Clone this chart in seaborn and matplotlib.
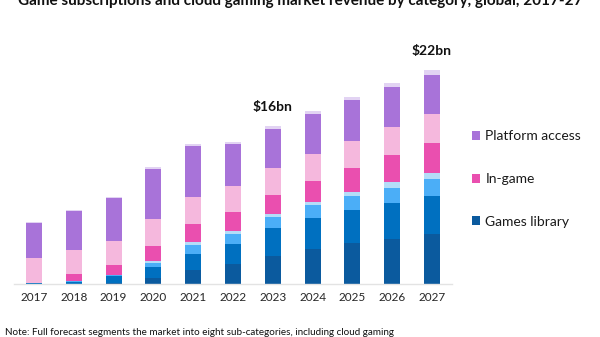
import numpy as np
import pandas as pd
import matplotlib
matplotlib.use("Agg")
import matplotlib.pyplot as plt
import seaborn as sns
from matplotlib.patches import Patch

years = ["2017", "2018", "2019", "2020", "2021", "2022", "2023", "2024", "2025", "2026", "2027"]
# segments bottom to top, US$ bn
games_library = [0.03, 0.05, 0.08, 0.58, 1.47, 2.02, 2.90, 3.59, 4.21, 4.65, 5.16]
library_b     = [0.10, 0.20, 0.72, 1.13, 1.61, 2.11, 2.81, 3.15, 3.38, 3.69, 3.87]
library_c     = [0.00, 0.02, 0.13, 0.47, 0.89, 1.03, 1.16, 1.33, 1.44, 1.54, 1.71]
library_d     = [0.00, 0.00, 0.03, 0.17, 0.31, 0.31, 0.28, 0.34, 0.44, 0.54, 0.62]
in_game       = [0.00, 0.75, 1.03, 1.57, 1.91, 1.89, 1.95, 2.15, 2.43, 2.77, 3.11]
in_game_b     = [2.50, 2.46, 2.39, 2.74, 2.77, 2.73, 2.83, 2.80, 2.80, 2.87, 2.94]
platform      = [3.65, 4.00, 4.45, 5.13, 5.17, 4.25, 3.97, 4.07, 4.14, 4.10, 4.06]
platform_b    = [0.10, 0.10, 0.10, 0.17, 0.21, 0.27, 0.31, 0.34, 0.37, 0.41, 0.48]

segments = [games_library, library_b, library_c, library_d, in_game, in_game_b, platform, platform_b]
colors = ["#0B5A9E", "#0070C0", "#4BAEF7", "#B4DDF8", "#EA4FAF", "#F5B8DD", "#A873D9", "#E2D3F3"]

annotations = {"2023": "$16bn", "2027": "$22bn"}
legend_labels = ["Platform access", "In-game", "Games library"]
legend_colors = ["#A873D9", "#EA4FAF", "#0B5A9E"]

title = "Game subscriptions and cloud gaming market revenue by category, global, 2017-27"
note = "Note: Full forecast segments the market into eight sub-categories, including cloud gaming"

sns.set_theme(style="white")
plt.rcParams["font.family"] = ["Lato", "DejaVu Sans"]

fig = plt.figure(figsize=(6, 3.37), dpi=100)
ax = fig.add_axes([14 / 600, 1 - 284 / 337, 438 / 600, 234 / 337])

cum = np.cumsum(np.array(segments), axis=0)
df = pd.DataFrame({"year": years})
for i in range(len(segments) - 1, -1, -1):
    df["v"] = cum[i]
    sns.barplot(data=df, x="year", y="v", color=colors[i], saturation=1,
                width=0.4, linewidth=0, ax=ax, order=years)

ax.set_xlim(-0.5, 10.5)
ax.set_ylim(0, 24)
ax.set_xlabel("")
ax.set_ylabel("")
ax.set_yticks([])
for s in ["top", "right", "left"]:
    ax.spines[s].set_visible(False)
ax.spines["bottom"].set_color("#E3E3E3")
ax.spines["bottom"].set_linewidth(1.0)
ax.tick_params(axis="x", length=0, pad=6, labelsize=8.5, labelcolor="#262626")

totals = cum[-1]
for i, y in enumerate(years):
    if y in annotations:
        ax.text(i - 0.02, totals[i] + 1.3, annotations[y], ha="center", va="bottom",
                fontsize=10, fontweight="bold", color="#111111")

handles = [Patch(facecolor=c, edgecolor="none") for c in legend_colors]
fig.legend(handles, legend_labels, loc="upper left", bbox_to_anchor=(459 / 600, 1 - 118 / 337),
           frameon=False, fontsize=10, handlelength=0.6, handleheight=0.6, handletextpad=0.4,
           labelspacing=2.2, labelcolor="#1a1a1a")

fig.text(0.5, 1 - 5.5 / 337, title, ha="center", va="baseline", fontsize=11,
         fontweight="bold", color="#111111")
fig.text(5 / 600, 1 - 335 / 337, note, ha="left", va="baseline", fontsize=7.1, color="#111111")

fig.savefig("out.png", dpi=100)
